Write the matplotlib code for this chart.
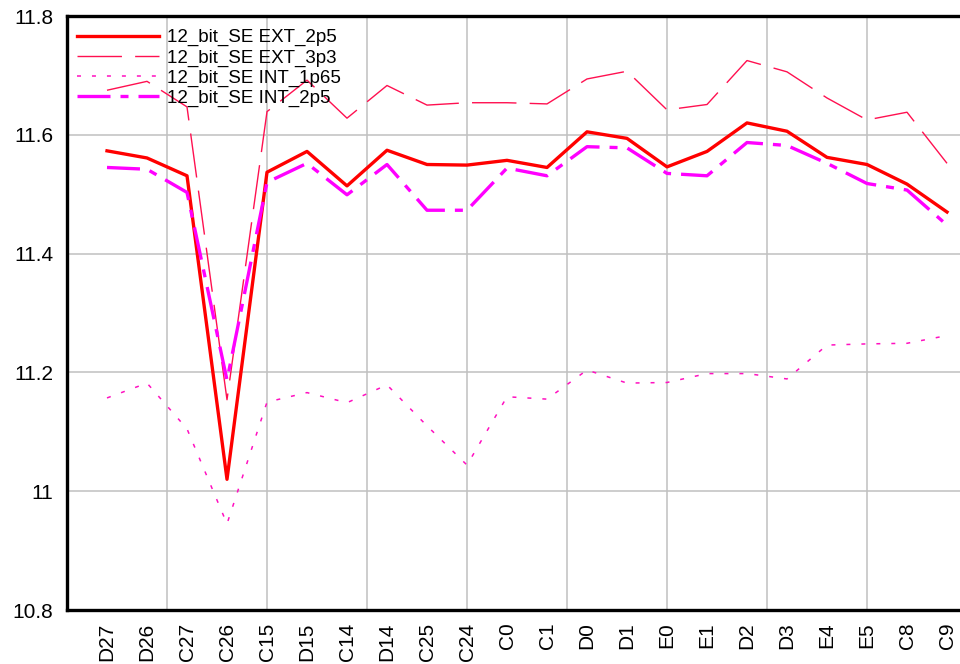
import numpy as np
import matplotlib
matplotlib.use("Agg")
import matplotlib.pyplot as plt

# ── DATA ───────────────────────────────────────────────────────────────────────
categories = ['D27', 'D26', 'C27', 'C26', 'C15', 'D15', 'C14', 'D14', 'C25', 'C24', 'C0',
              'C1', 'D0', 'D1', 'E0', 'E1', 'D2', 'D3', 'E4', 'E5', 'C8', 'C9']

ext_2p5 = [11.573, 11.561, 11.531, 11.020, 11.537, 11.572, 11.514, 11.574, 11.550, 11.549, 11.557,
           11.545, 11.605, 11.594, 11.546, 11.572, 11.620, 11.606, 11.562, 11.550, 11.517, 11.470]
ext_3p3 = [11.675, 11.690, 11.647, 11.154, 11.639, 11.692, 11.628, 11.683, 11.650, 11.654, 11.654,
           11.652, 11.694, 11.707, 11.642, 11.651, 11.725, 11.706, 11.662, 11.625, 11.638, 11.552]
int_1p65 = [11.157, 11.182, 11.105, 10.945, 11.150, 11.166, 11.149, 11.179, 11.110, 11.044, 11.159,
            11.155, 11.204, 11.182, 11.183, 11.198, 11.198, 11.189, 11.246, 11.248, 11.249, 11.262]
int_2p5 = [11.545, 11.542, 11.503, 11.187, 11.520, 11.552, 11.499, 11.550, 11.473, 11.473, 11.544,
           11.531, 11.580, 11.578, 11.535, 11.531, 11.587, 11.582, 11.552, 11.518, 11.507, 11.448]

labels = ['12_bit_SE EXT_2p5', '12_bit_SE EXT_3p3', '12_bit_SE INT_1p65', '12_bit_SE INT_2p5']
y_ticks = [10.8, 11.0, 11.2, 11.4, 11.6, 11.8]
y_ticklabels = ['10.8', '11', '11.2', '11.4', '11.6', '11.8']

# ── STYLE ──────────────────────────────────────────────────────────────────────
plt.rcParams['font.family'] = ['Liberation Sans', 'DejaVu Sans']
GRID = '#c0c0c0'

fig = plt.figure(figsize=(9.6, 6.64), dpi=100, facecolor='white')
# axes runs past the right edge of the figure, like the reference
ax = fig.add_axes([67 / 960, 54 / 664, 900 / 960, 594 / 664])

x = np.arange(len(categories))
ax.plot(x, ext_2p5, color='#ff0000', lw=2.4, label=labels[0])
ax.plot(x, ext_3p3, color='#ff1050', lw=1.0, ls=(0, (32, 9.5)), label=labels[1])
ax.plot(x, int_1p65, color='#ff10c0', lw=1.1, ls=(0, (2.6, 7.2)), label=labels[2])
ax.plot(x, int_2p5, color='#ff00ff', lw=2.4, ls=(0, (9.9, 3.0, 2.4, 3.0)), label=labels[3])

ax.set_xlim(-1, 21.5)
ax.set_ylim(10.8, 11.8)

# vertical grid every 2.5 categories, independent of the category ticks
ax.xaxis.remove_overlapping_locs = False
ax.set_xticks(x)
ax.set_xticklabels(categories, rotation=90, fontsize=15)
ax.set_xticks(np.arange(1.5, 21, 2.5), minor=True)
ax.set_yticks(y_ticks)
ax.set_yticklabels(y_ticklabels, fontsize=15)
ax.tick_params(axis='both', which='both', length=0)
ax.tick_params(axis='y', pad=10)
ax.tick_params(axis='x', pad=9)

ax.grid(axis='y', which='major', color=GRID, lw=1.1)
ax.grid(axis='x', which='major', visible=False)
ax.grid(axis='x', which='minor', color=GRID, lw=1.1)
ax.set_axisbelow(True)

for s in ax.spines.values():
    s.set_color('black')
    s.set_linewidth(2.4)

ax.legend(loc='upper left', bbox_to_anchor=(0.011, 0.978), frameon=False,
          fontsize=13.5, handlelength=4.4, handletextpad=0.4,
          labelspacing=0.15, borderpad=0, borderaxespad=0)

plt.savefig('out.png', dpi=100, facecolor='white')
plt.close()
